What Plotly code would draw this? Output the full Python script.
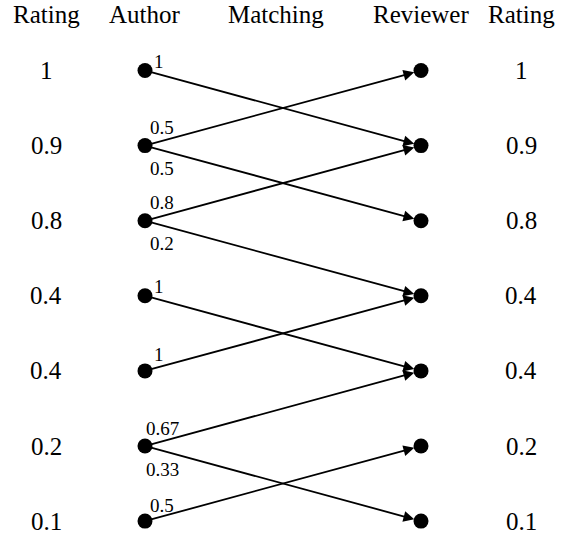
import plotly.graph_objects as go

# ---- data ----
headers = ["Rating", "Author", "Matching", "Reviewer", "Rating"]
author_ratings = ["1", "0.9", "0.8", "0.4", "0.4", "0.2", "0.1"]
reviewer_ratings = ["1", "0.9", "0.8", "0.4", "0.4", "0.2", "0.1"]
# edges: (author row, reviewer row, weight label)
edge_src = [0, 1, 1, 2, 2, 3, 4, 5, 5, 6]
edge_dst = [1, 0, 2, 1, 3, 4, 3, 4, 6, 5]
edge_w = ["1", "0.5", "0.5", "0.8", "0.2", "1", "1", "0.67", "0.33", "0.5"]

# ---- layout constants (pixel x, row-index y) ----
W, H = 570, 537
col_x = [46, 145, 276, 421, 521]
row_px0, row_step = 70.5, 75.1
y_top = -row_px0 / row_step
y_bot = y_top + H / row_step
px = 1.0 / row_step  # one pixel in row units

FONT = "Liberation Serif"
n = len(author_ratings)
rows = list(range(n))

fig = go.Figure()
fig.add_trace(go.Scatter(x=[col_x[1]] * n, y=rows, mode="markers",
                         marker=dict(size=15, color="black"), hoverinfo="skip"))
fig.add_trace(go.Scatter(x=[col_x[3]] * n, y=rows, mode="markers",
                         marker=dict(size=15, color="black"), hoverinfo="skip"))

ann = []
for i, h in enumerate(headers):
    ann.append(dict(x=col_x[i], y=y_top + 14 * px, text=h, showarrow=False,
                    font=dict(family=FONT, size=25, color="black")))
for r in rows:
    ann.append(dict(x=col_x[0], y=r, text=author_ratings[r], showarrow=False,
                    font=dict(family=FONT, size=25, color="black")))
    ann.append(dict(x=col_x[4], y=r, text=reviewer_ratings[r], showarrow=False,
                    font=dict(family=FONT, size=25, color="black")))

for s, d, w in zip(edge_src, edge_dst, edge_w):
    ann.append(dict(x=col_x[3], y=d, ax=col_x[1], ay=s, xref="x", yref="y",
                    axref="x", ayref="y", showarrow=True, arrowhead=2,
                    arrowsize=1.2, arrowwidth=1.8, arrowcolor="black",
                    standoff=7, startstandoff=0, text=""))
    cnt = edge_src.count(s)
    if d < s:
        dy = -18 if cnt == 2 else -16
    else:
        dy = 23 if cnt == 2 else -9
    dx = 13.5 if len(w) == 1 else 17
    ann.append(dict(x=col_x[1] + dx, y=s + dy * px, text=w, showarrow=False,
                    xanchor="center", yanchor="middle",
                    font=dict(family=FONT, size=19, color="black")))

fig.update_layout(
    width=W, height=H, margin=dict(l=0, r=0, t=0, b=0),
    paper_bgcolor="white", plot_bgcolor="white", showlegend=False,
    xaxis=dict(range=[0, W], visible=False, fixedrange=True),
    yaxis=dict(range=[y_bot, y_top], visible=False, fixedrange=True),
    annotations=ann,
)
fig.write_html("out.html", config={"displayModeBar": False},
               post_script="document.body.style.margin='0';")
